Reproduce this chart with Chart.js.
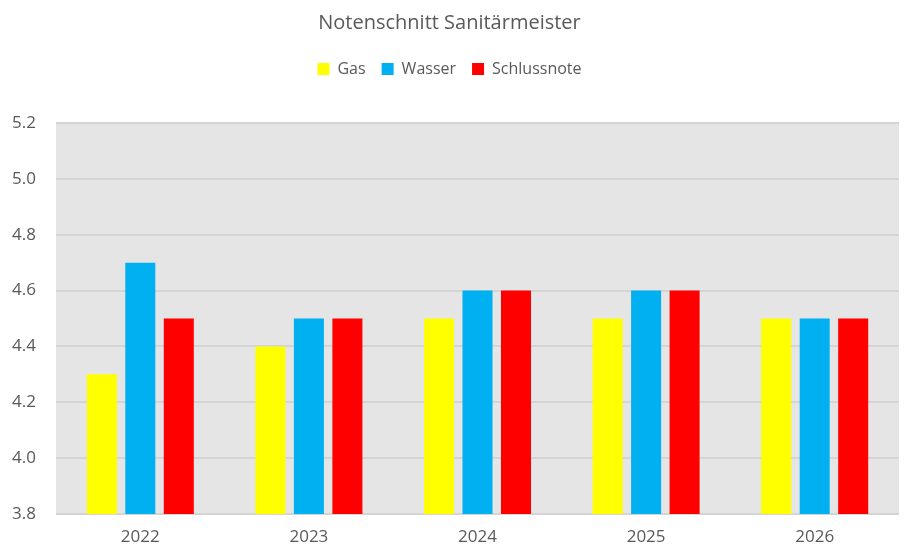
<!DOCTYPE html>
<html><head><meta charset="utf-8">
<script src="https://cdn.jsdelivr.net/npm/chart.js@4"></script>
<style>html,body{margin:0;padding:0;background:#fff}#wrap{width:907px;height:546px}</style>
</head><body><div id="wrap"><canvas id="c"></canvas></div>
<script>
const categories = ["2022","2023","2024","2025","2026"];
const gas = [4.3,4.4,4.5,4.5,4.5];
const wasser = [4.7,4.5,4.6,4.6,4.5];
const schlussnote = [4.5,4.5,4.6,4.6,4.5];
const yTicks = [3.8,4.0,4.2,4.4,4.6,4.8,5.0,5.2];
const seriesNames = ["Gas","Wasser","Schlussnote"];
const colors = ["#FFFF00","#00B0F0","#FF0000"];

const bgPlugin = {
  id:'bg',
  beforeDraw(chart){
    const {ctx, chartArea:a} = chart;
    ctx.save(); ctx.fillStyle='#E5E5E5';
    ctx.fillRect(a.left,a.top,a.right-a.left,a.bottom-a.top);
    ctx.restore();
  }
};
const FONT = "'Open Sans', 'Noto Sans', sans-serif";
new Chart(document.getElementById('c'),{
  type:'bar',
  data:{labels:categories,datasets:[gas,wasser,schlussnote].map((d,i)=>({
    label:seriesNames[i],data:d,backgroundColor:colors[i],borderWidth:0,
    barPercentage:0.78,categoryPercentage:0.685
  }))},
  options:{
    responsive:true,maintainAspectRatio:false,animation:false,
    layout:{padding:{left:0,right:8,top:2,bottom:0}},
    plugins:{
      title:{display:true,text:'Notenschnitt Sanitärmeister',color:'#595959',
        font:{family:FONT,size:20,weight:'normal'},padding:{top:9,bottom:10}},
      legend:{position:'top',labels:{color:'#595959',boxWidth:12,boxHeight:12,
        font:{family:FONT,size:16},padding:16},
        },
      tooltip:{enabled:false}
    },
    scales:{
      x:{grid:{display:false},border:{display:false},
        ticks:{color:'#595959',font:{family:FONT,size:17},padding:5},
        afterFit(s){s.height=32;}},
      y:{min:3.8,max:5.2,
        grid:{color:'#D4D4D4',lineWidth:2,drawTicks:false},
        border:{display:false},
        afterBuildTicks(s){s.ticks=yTicks.map(v=>({value:v}));},
        afterFit(s){s.width=56;},
        ticks:{color:'#595959',font:{family:FONT,size:17},padding:20,
          callback:v=>v.toFixed(1)}}
    }
  },
  plugins:[bgPlugin,{id:'legendPad',beforeInit(chart){const f=chart.legend.fit;chart.legend.fit=function(){f.bind(chart.legend)();this.height+=36;};}}]
});
</script></body></html>
